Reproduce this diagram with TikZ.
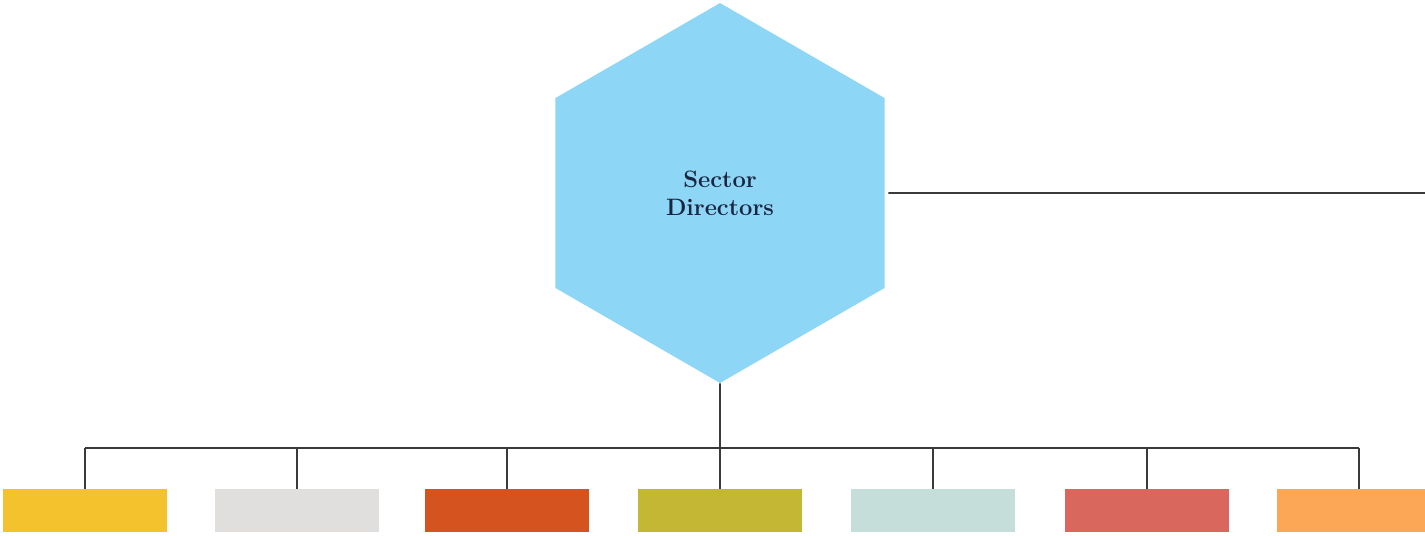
\documentclass[tikz,border=0pt]{standalone}
\usetikzlibrary{shapes.geometric}

\definecolor{hexblue}{HTML}{8ED6F5}
\definecolor{textnavy}{HTML}{182642}
\definecolor{linkgray}{HTML}{3A3A3A}
\definecolor{unitA}{HTML}{F3C22C}
\definecolor{unitB}{HTML}{E1DFDD}
\definecolor{unitC}{HTML}{D4531F}
\definecolor{unitD}{HTML}{C3B734}
\definecolor{unitE}{HTML}{C6DED9}
\definecolor{unitF}{HTML}{D9675D}
\definecolor{unitG}{HTML}{FBA756}

\begin{document}
\begin{tikzpicture}[
    x=0.02cm, y=-0.02cm,
    link/.style={draw=linkgray, line width=1.1pt},
    unitbox/.style={rectangle, minimum width=3.28cm, minimum height=0.86cm, inner sep=0pt},
    hexbox/.style={regular polygon, regular polygon sides=6, shape border rotate=30,
        minimum size=7.6cm, inner sep=0pt, fill=hexblue, text=textnavy,
        font=\bfseries\fontsize{13.5}{16}\selectfont, align=center}
]
    \useasboundingbox (0,0) rectangle (1425,535);
    \clip (0,0) rectangle (1425,535);

    \node (sector) [hexbox] at (720,193) {Sector\\Directors};
    \coordinate (exit) at (1425,193);
    \coordinate (bus) at (720,448);

    % the row of units
    \foreach \c/\x [count=\i] in {unitA/85,unitB/297,unitC/507,unitD/720,
                                  unitE/933,unitF/1147,unitG/1359}
        \node (unit\i) [unitbox, fill=\c] at (\x,510.5) {};

    \draw [link, shorten <=2pt] (sector.east) -- (exit);
    \draw [link] (sector.south) -- (bus);
    \draw [link] (unit1.north |- bus) -- (unit7.north |- bus);
    \foreach \i in {1,...,7}
        \draw [link] (unit\i.north |- bus) -- (unit\i.north);
\end{tikzpicture}
\end{document}
